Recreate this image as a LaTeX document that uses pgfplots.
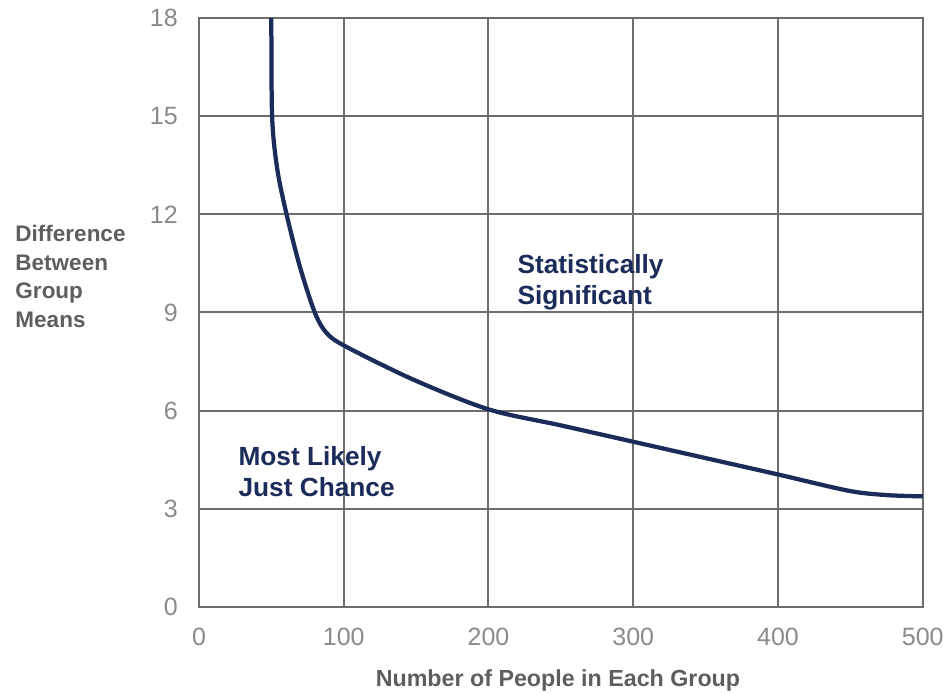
\documentclass[border=0pt]{standalone}
\usepackage{fontspec}
\setmainfont{Liberation Sans}
\usepackage{pgfplots}
\pgfplotsset{compat=1.18}
\definecolor{gridc}{HTML}{6E6E6E}
\definecolor{navy}{HTML}{1B2B5A}
\definecolor{tickc}{HTML}{8A8A8A}
\definecolor{labc}{HTML}{5E5E5E}
\begin{document}
\begin{tikzpicture}
\path[use as bounding box] (-79.6pt,-34.4pt) rectangle (298.4pt,242.8pt);
\begin{axis}[
  at={(0,0)}, anchor=south west,
  scale only axis,
  width=289.5pt, height=235.6pt,
  xmin=0, xmax=500, ymin=0, ymax=18,
  xtick={0,100,...,500}, ytick={0,3,...,18},
  grid=major,
  major grid style={gridc, line width=0.8pt},
  axis line style={gridc, line width=0.8pt},
  major tick length=0pt,
  tick label style={font=\fontsize{10}{12}\selectfont, text=tickc},
  /pgf/number format/assume math mode=true,
  xticklabel style={yshift=-5pt},
  yticklabel style={xshift=-5pt},
  clip=false,
]
\addplot[navy, line width=1.7pt, smooth, tension=0.5] coordinates {
(50,18) (50.5,15) (54,13.4) (60.5,12) (69.7,10.4) (80,9.0) (88,8.38)
(101,7.97) (148,6.95) (200,6.04) (250,5.55) (297,5.08) (350,4.55)
(400,4.05) (449,3.55) (475,3.42) (500,3.38)
};
\node[anchor=west, align=left, inner sep=0pt, text=labc,
  font=\bfseries\fontsize{9}{11.4}\selectfont, xshift=-73.6pt]
  at (axis cs:0,10.1) {Difference\\Between\\Group\\Means};
\node[anchor=west, align=left, inner sep=0pt, text=navy,
  font=\bfseries\fontsize{10.5}{12.2}\selectfont]
  at (axis cs:219.8,9.93) {Statistically\\Significant};
\node[anchor=west, align=left, inner sep=0pt, text=navy,
  font=\bfseries\fontsize{10.5}{12.4}\selectfont]
  at (axis cs:27,4.13) {Most Likely\\Just Chance};
\node[anchor=center, inner sep=0pt, text=labc,
  font=\bfseries\fontsize{9.3}{11}\selectfont, yshift=-29.2pt]
  at (axis cs:248,0) {Number of People in Each Group};
\end{axis}
\end{tikzpicture}
\end{document}
